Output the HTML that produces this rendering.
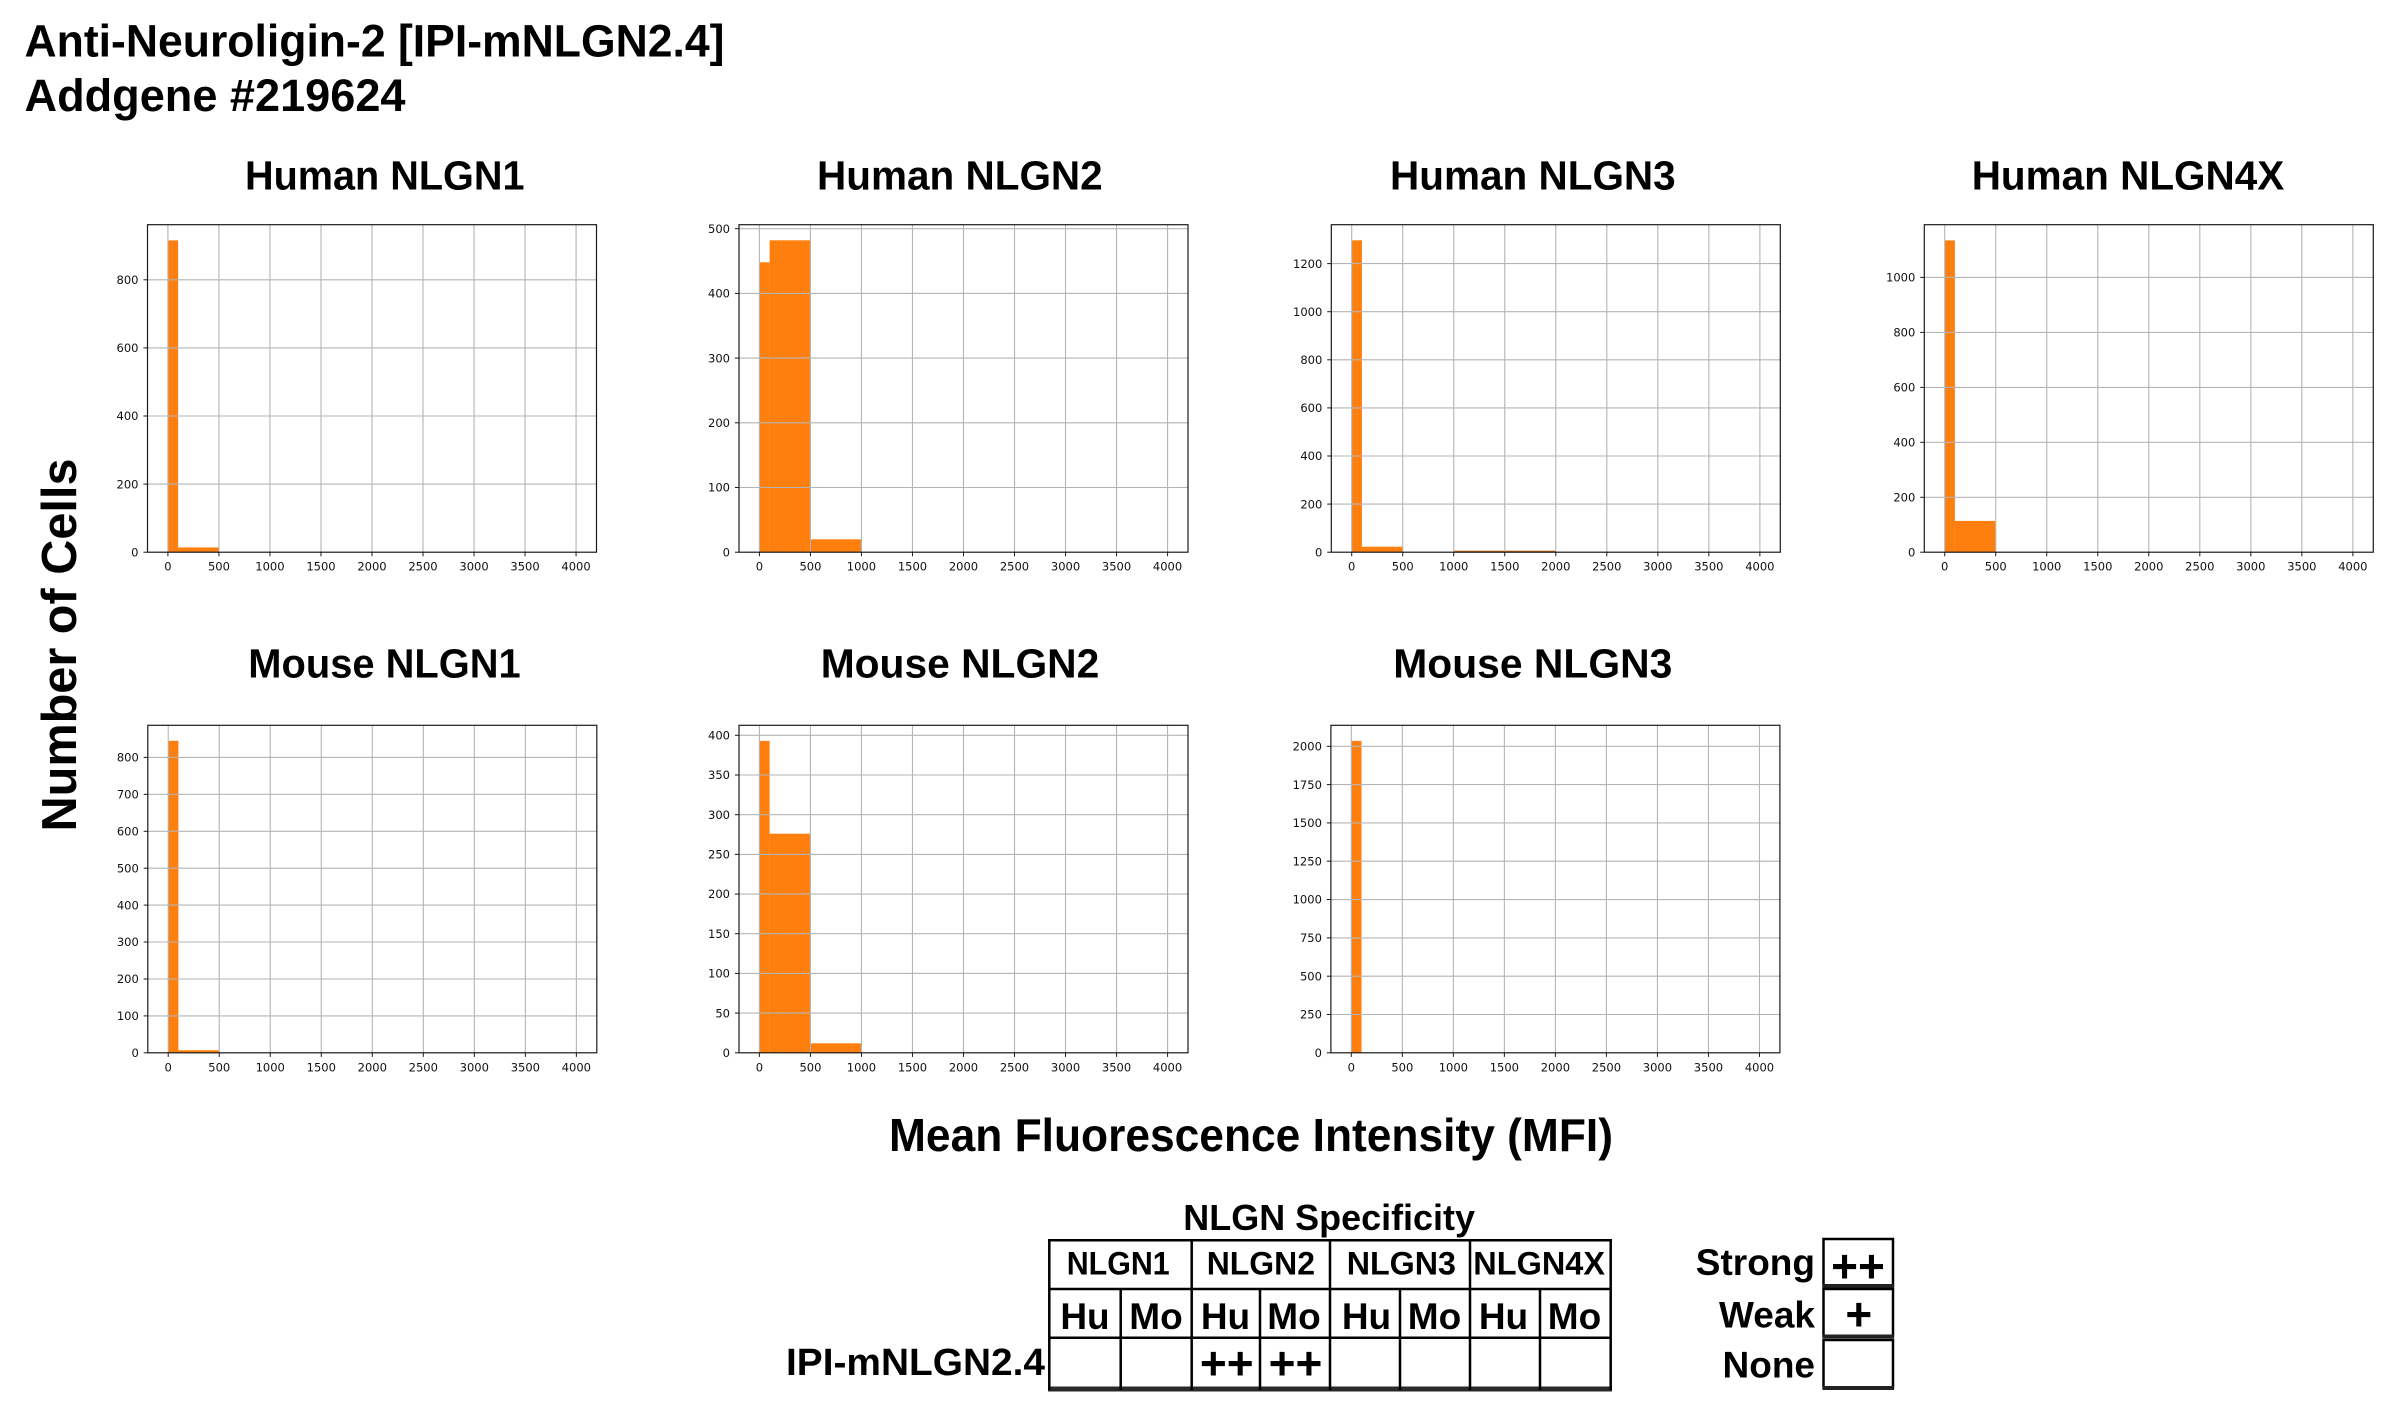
<!DOCTYPE html>
<html>
<head>
<meta charset="utf-8">
<style>
html,body{margin:0;padding:0;background:#fff;}
svg{display:block;}
.t{font-family:"Liberation Sans",Arial,sans-serif;font-weight:bold;fill:#000;}
.tk{font-family:"DejaVu Sans",sans-serif;font-size:11.5px;fill:#111;}
.tx{text-anchor:middle;}
.ty{text-anchor:end;}
.bar{fill:#ff7f0e;}
.grid line{stroke:#b4b4b4;stroke-width:1.1;}
.spine{fill:none;stroke:#1a1a1a;stroke-width:1.2;}
.tick line{stroke:#1a1a1a;stroke-width:1;}
.tb{stroke:#000;stroke-width:2.5;}
</style>
</head>
<body>
<svg width="2407" height="1418" viewBox="0 0 2407 1418" xmlns="http://www.w3.org/2000/svg">
<rect x="0" y="0" width="2407" height="1418" fill="#fff"/>

<!-- Main titles -->
<text class="t" x="24.5" y="56.6" font-size="45" textLength="700" lengthAdjust="spacingAndGlyphs">Anti-Neuroligin-2 [IPI-mNLGN2.4]</text>
<text class="t" x="24.5" y="111" font-size="45" textLength="381" lengthAdjust="spacingAndGlyphs">Addgene #219624</text>

<!-- Subplot titles -->
<text class="t" x="245" y="189.3" font-size="41" textLength="279.5" lengthAdjust="spacingAndGlyphs">Human NLGN1</text>
<text class="t" x="817" y="189.3" font-size="41" textLength="285.7" lengthAdjust="spacingAndGlyphs">Human NLGN2</text>
<text class="t" x="1390" y="189.3" font-size="41" textLength="285.7" lengthAdjust="spacingAndGlyphs">Human NLGN3</text>
<text class="t" x="1971.7" y="189.3" font-size="41" textLength="312.6" lengthAdjust="spacingAndGlyphs">Human NLGN4X</text>
<text class="t" x="248.3" y="677.7" font-size="41" textLength="272.4" lengthAdjust="spacingAndGlyphs">Mouse NLGN1</text>
<text class="t" x="820.7" y="677.7" font-size="41" textLength="278.6" lengthAdjust="spacingAndGlyphs">Mouse NLGN2</text>
<text class="t" x="1393.3" y="677.7" font-size="41" textLength="279" lengthAdjust="spacingAndGlyphs">Mouse NLGN3</text>

<!-- Axis labels -->
<text class="t" transform="translate(76,645) rotate(-90)" x="0" y="0" font-size="49" text-anchor="middle" textLength="373" lengthAdjust="spacingAndGlyphs">Number of Cells</text>
<text class="t" x="889" y="1151" font-size="46" textLength="724" lengthAdjust="spacingAndGlyphs">Mean Fluorescence Intensity (MFI)</text>

<!-- ============ Subplot 1: Human NLGN1 ============ -->
<g transform="translate(147.5,224.7)">
<rect class="bar" x="20.41" y="15.7" width="10.2" height="311.8"/>
<rect class="bar" x="30.61" y="322.7" width="40.82" height="4.8"/>
<g class="grid">
<line x1="20.41" y1="0" x2="20.41" y2="327.5"/><line x1="71.43" y1="0" x2="71.43" y2="327.5"/><line x1="122.45" y1="0" x2="122.45" y2="327.5"/><line x1="173.47" y1="0" x2="173.47" y2="327.5"/><line x1="224.49" y1="0" x2="224.49" y2="327.5"/><line x1="275.51" y1="0" x2="275.51" y2="327.5"/><line x1="326.53" y1="0" x2="326.53" y2="327.5"/><line x1="377.55" y1="0" x2="377.55" y2="327.5"/><line x1="428.57" y1="0" x2="428.57" y2="327.5"/>
<line x1="0" y1="259.4" x2="449" y2="259.4"/><line x1="0" y1="191.3" x2="449" y2="191.3"/><line x1="0" y1="123.2" x2="449" y2="123.2"/><line x1="0" y1="55.1" x2="449" y2="55.1"/>
</g>
<rect class="spine" x="0" y="0" width="449" height="327.5"/>
<g class="tick">
<line x1="20.41" y1="327.5" x2="20.41" y2="331.6"/><line x1="71.43" y1="327.5" x2="71.43" y2="331.6"/><line x1="122.45" y1="327.5" x2="122.45" y2="331.6"/><line x1="173.47" y1="327.5" x2="173.47" y2="331.6"/><line x1="224.49" y1="327.5" x2="224.49" y2="331.6"/><line x1="275.51" y1="327.5" x2="275.51" y2="331.6"/><line x1="326.53" y1="327.5" x2="326.53" y2="331.6"/><line x1="377.55" y1="327.5" x2="377.55" y2="331.6"/><line x1="428.57" y1="327.5" x2="428.57" y2="331.6"/>
<line x1="-4.1" y1="327.5" x2="0" y2="327.5"/><line x1="-4.1" y1="259.4" x2="0" y2="259.4"/><line x1="-4.1" y1="191.3" x2="0" y2="191.3"/><line x1="-4.1" y1="123.2" x2="0" y2="123.2"/><line x1="-4.1" y1="55.1" x2="0" y2="55.1"/>
</g>
<text class="tk tx" x="20.41" y="346">0</text><text class="tk tx" x="71.43" y="346">500</text><text class="tk tx" x="122.45" y="346">1000</text><text class="tk tx" x="173.47" y="346">1500</text><text class="tk tx" x="224.49" y="346">2000</text><text class="tk tx" x="275.51" y="346">2500</text><text class="tk tx" x="326.53" y="346">3000</text><text class="tk tx" x="377.55" y="346">3500</text><text class="tk tx" x="428.57" y="346">4000</text>
<text class="tk ty" x="-9" y="331.7">0</text><text class="tk ty" x="-9" y="263.6">200</text><text class="tk ty" x="-9" y="195.5">400</text><text class="tk ty" x="-9" y="127.4">600</text><text class="tk ty" x="-9" y="59.3">800</text>
</g>

<!-- ============ Subplot 2: Human NLGN2 ============ -->
<g transform="translate(739,224.7)">
<rect class="bar" x="20.41" y="37.6" width="10.2" height="289.9"/>
<rect class="bar" x="30.61" y="15.6" width="40.82" height="311.9"/>
<rect class="bar" x="71.43" y="314.6" width="51.02" height="12.9"/>
<g class="grid">
<line x1="20.41" y1="0" x2="20.41" y2="327.5"/><line x1="71.43" y1="0" x2="71.43" y2="327.5"/><line x1="122.45" y1="0" x2="122.45" y2="327.5"/><line x1="173.47" y1="0" x2="173.47" y2="327.5"/><line x1="224.49" y1="0" x2="224.49" y2="327.5"/><line x1="275.51" y1="0" x2="275.51" y2="327.5"/><line x1="326.53" y1="0" x2="326.53" y2="327.5"/><line x1="377.55" y1="0" x2="377.55" y2="327.5"/><line x1="428.57" y1="0" x2="428.57" y2="327.5"/>
<line x1="0" y1="262.8" x2="449" y2="262.8"/><line x1="0" y1="198.1" x2="449" y2="198.1"/><line x1="0" y1="133.4" x2="449" y2="133.4"/><line x1="0" y1="68.7" x2="449" y2="68.7"/><line x1="0" y1="4.0" x2="449" y2="4.0"/>
</g>
<rect class="spine" x="0" y="0" width="449" height="327.5"/>
<g class="tick">
<line x1="20.41" y1="327.5" x2="20.41" y2="331.6"/><line x1="71.43" y1="327.5" x2="71.43" y2="331.6"/><line x1="122.45" y1="327.5" x2="122.45" y2="331.6"/><line x1="173.47" y1="327.5" x2="173.47" y2="331.6"/><line x1="224.49" y1="327.5" x2="224.49" y2="331.6"/><line x1="275.51" y1="327.5" x2="275.51" y2="331.6"/><line x1="326.53" y1="327.5" x2="326.53" y2="331.6"/><line x1="377.55" y1="327.5" x2="377.55" y2="331.6"/><line x1="428.57" y1="327.5" x2="428.57" y2="331.6"/>
<line x1="-4.1" y1="327.5" x2="0" y2="327.5"/><line x1="-4.1" y1="262.8" x2="0" y2="262.8"/><line x1="-4.1" y1="198.1" x2="0" y2="198.1"/><line x1="-4.1" y1="133.4" x2="0" y2="133.4"/><line x1="-4.1" y1="68.7" x2="0" y2="68.7"/><line x1="-4.1" y1="4.0" x2="0" y2="4.0"/>
</g>
<text class="tk tx" x="20.41" y="346">0</text><text class="tk tx" x="71.43" y="346">500</text><text class="tk tx" x="122.45" y="346">1000</text><text class="tk tx" x="173.47" y="346">1500</text><text class="tk tx" x="224.49" y="346">2000</text><text class="tk tx" x="275.51" y="346">2500</text><text class="tk tx" x="326.53" y="346">3000</text><text class="tk tx" x="377.55" y="346">3500</text><text class="tk tx" x="428.57" y="346">4000</text>
<text class="tk ty" x="-9" y="331.7">0</text><text class="tk ty" x="-9" y="267">100</text><text class="tk ty" x="-9" y="202.3">200</text><text class="tk ty" x="-9" y="137.6">300</text><text class="tk ty" x="-9" y="72.9">400</text><text class="tk ty" x="-9" y="8.2">500</text>
</g>

<!-- ============ Subplot 3: Human NLGN3 ============ -->
<g transform="translate(1331.3,224.7)">
<rect class="bar" x="20.41" y="15.6" width="10.2" height="311.9"/>
<rect class="bar" x="30.61" y="322" width="40.82" height="5.5"/>
<rect class="bar" x="122.45" y="326" width="102.04" height="1.5" style="fill:#c8640b"/>
<g class="grid">
<line x1="20.41" y1="0" x2="20.41" y2="327.5"/><line x1="71.43" y1="0" x2="71.43" y2="327.5"/><line x1="122.45" y1="0" x2="122.45" y2="327.5"/><line x1="173.47" y1="0" x2="173.47" y2="327.5"/><line x1="224.49" y1="0" x2="224.49" y2="327.5"/><line x1="275.51" y1="0" x2="275.51" y2="327.5"/><line x1="326.53" y1="0" x2="326.53" y2="327.5"/><line x1="377.55" y1="0" x2="377.55" y2="327.5"/><line x1="428.57" y1="0" x2="428.57" y2="327.5"/>
<line x1="0" y1="279.4" x2="449" y2="279.4"/><line x1="0" y1="231.3" x2="449" y2="231.3"/><line x1="0" y1="183.2" x2="449" y2="183.2"/><line x1="0" y1="135.1" x2="449" y2="135.1"/><line x1="0" y1="87.0" x2="449" y2="87.0"/><line x1="0" y1="38.9" x2="449" y2="38.9"/>
</g>
<rect class="spine" x="0" y="0" width="449" height="327.5"/>
<g class="tick">
<line x1="20.41" y1="327.5" x2="20.41" y2="331.6"/><line x1="71.43" y1="327.5" x2="71.43" y2="331.6"/><line x1="122.45" y1="327.5" x2="122.45" y2="331.6"/><line x1="173.47" y1="327.5" x2="173.47" y2="331.6"/><line x1="224.49" y1="327.5" x2="224.49" y2="331.6"/><line x1="275.51" y1="327.5" x2="275.51" y2="331.6"/><line x1="326.53" y1="327.5" x2="326.53" y2="331.6"/><line x1="377.55" y1="327.5" x2="377.55" y2="331.6"/><line x1="428.57" y1="327.5" x2="428.57" y2="331.6"/>
<line x1="-4.1" y1="327.5" x2="0" y2="327.5"/><line x1="-4.1" y1="279.4" x2="0" y2="279.4"/><line x1="-4.1" y1="231.3" x2="0" y2="231.3"/><line x1="-4.1" y1="183.2" x2="0" y2="183.2"/><line x1="-4.1" y1="135.1" x2="0" y2="135.1"/><line x1="-4.1" y1="87.0" x2="0" y2="87.0"/><line x1="-4.1" y1="38.9" x2="0" y2="38.9"/>
</g>
<text class="tk tx" x="20.41" y="346">0</text><text class="tk tx" x="71.43" y="346">500</text><text class="tk tx" x="122.45" y="346">1000</text><text class="tk tx" x="173.47" y="346">1500</text><text class="tk tx" x="224.49" y="346">2000</text><text class="tk tx" x="275.51" y="346">2500</text><text class="tk tx" x="326.53" y="346">3000</text><text class="tk tx" x="377.55" y="346">3500</text><text class="tk tx" x="428.57" y="346">4000</text>
<text class="tk ty" x="-9" y="331.7">0</text><text class="tk ty" x="-9" y="283.6">200</text><text class="tk ty" x="-9" y="235.5">400</text><text class="tk ty" x="-9" y="187.4">600</text><text class="tk ty" x="-9" y="139.3">800</text><text class="tk ty" x="-9" y="91.2">1000</text><text class="tk ty" x="-9" y="43.1">1200</text>
</g>

<!-- ============ Subplot 4: Human NLGN4X ============ -->
<g transform="translate(1924.3,224.7)">
<rect class="bar" x="20.41" y="15.7" width="10.2" height="311.8"/>
<rect class="bar" x="30.61" y="296.2" width="40.82" height="31.3"/>
<g class="grid">
<line x1="20.41" y1="0" x2="20.41" y2="327.5"/><line x1="71.43" y1="0" x2="71.43" y2="327.5"/><line x1="122.45" y1="0" x2="122.45" y2="327.5"/><line x1="173.47" y1="0" x2="173.47" y2="327.5"/><line x1="224.49" y1="0" x2="224.49" y2="327.5"/><line x1="275.51" y1="0" x2="275.51" y2="327.5"/><line x1="326.53" y1="0" x2="326.53" y2="327.5"/><line x1="377.55" y1="0" x2="377.55" y2="327.5"/><line x1="428.57" y1="0" x2="428.57" y2="327.5"/>
<line x1="0" y1="272.6" x2="449" y2="272.6"/><line x1="0" y1="217.6" x2="449" y2="217.6"/><line x1="0" y1="162.7" x2="449" y2="162.7"/><line x1="0" y1="107.7" x2="449" y2="107.7"/><line x1="0" y1="52.7" x2="449" y2="52.7"/>
</g>
<rect class="spine" x="0" y="0" width="449" height="327.5"/>
<g class="tick">
<line x1="20.41" y1="327.5" x2="20.41" y2="331.6"/><line x1="71.43" y1="327.5" x2="71.43" y2="331.6"/><line x1="122.45" y1="327.5" x2="122.45" y2="331.6"/><line x1="173.47" y1="327.5" x2="173.47" y2="331.6"/><line x1="224.49" y1="327.5" x2="224.49" y2="331.6"/><line x1="275.51" y1="327.5" x2="275.51" y2="331.6"/><line x1="326.53" y1="327.5" x2="326.53" y2="331.6"/><line x1="377.55" y1="327.5" x2="377.55" y2="331.6"/><line x1="428.57" y1="327.5" x2="428.57" y2="331.6"/>
<line x1="-4.1" y1="327.5" x2="0" y2="327.5"/><line x1="-4.1" y1="272.6" x2="0" y2="272.6"/><line x1="-4.1" y1="217.6" x2="0" y2="217.6"/><line x1="-4.1" y1="162.7" x2="0" y2="162.7"/><line x1="-4.1" y1="107.7" x2="0" y2="107.7"/><line x1="-4.1" y1="52.7" x2="0" y2="52.7"/>
</g>
<text class="tk tx" x="20.41" y="346">0</text><text class="tk tx" x="71.43" y="346">500</text><text class="tk tx" x="122.45" y="346">1000</text><text class="tk tx" x="173.47" y="346">1500</text><text class="tk tx" x="224.49" y="346">2000</text><text class="tk tx" x="275.51" y="346">2500</text><text class="tk tx" x="326.53" y="346">3000</text><text class="tk tx" x="377.55" y="346">3500</text><text class="tk tx" x="428.57" y="346">4000</text>
<text class="tk ty" x="-9" y="331.7">0</text><text class="tk ty" x="-9" y="276.8">200</text><text class="tk ty" x="-9" y="221.8">400</text><text class="tk ty" x="-9" y="166.9">600</text><text class="tk ty" x="-9" y="111.9">800</text><text class="tk ty" x="-9" y="56.9">1000</text>
</g>

<!-- ============ Subplot 5: Mouse NLGN1 ============ -->
<g transform="translate(147.8,725.3)">
<rect class="bar" x="20.41" y="15.5" width="10.2" height="312"/>
<rect class="bar" x="30.61" y="324.9" width="40.82" height="2.6"/>
<g class="grid">
<line x1="20.41" y1="0" x2="20.41" y2="327.5"/><line x1="71.43" y1="0" x2="71.43" y2="327.5"/><line x1="122.45" y1="0" x2="122.45" y2="327.5"/><line x1="173.47" y1="0" x2="173.47" y2="327.5"/><line x1="224.49" y1="0" x2="224.49" y2="327.5"/><line x1="275.51" y1="0" x2="275.51" y2="327.5"/><line x1="326.53" y1="0" x2="326.53" y2="327.5"/><line x1="377.55" y1="0" x2="377.55" y2="327.5"/><line x1="428.57" y1="0" x2="428.57" y2="327.5"/>
<line x1="0" y1="290.6" x2="449" y2="290.6"/><line x1="0" y1="253.7" x2="449" y2="253.7"/><line x1="0" y1="216.7" x2="449" y2="216.7"/><line x1="0" y1="179.8" x2="449" y2="179.8"/><line x1="0" y1="142.9" x2="449" y2="142.9"/><line x1="0" y1="106.0" x2="449" y2="106.0"/><line x1="0" y1="69.05" x2="449" y2="69.05"/><line x1="0" y1="32.1" x2="449" y2="32.1"/>
</g>
<rect class="spine" x="0" y="0" width="449" height="327.5"/>
<g class="tick">
<line x1="20.41" y1="327.5" x2="20.41" y2="331.6"/><line x1="71.43" y1="327.5" x2="71.43" y2="331.6"/><line x1="122.45" y1="327.5" x2="122.45" y2="331.6"/><line x1="173.47" y1="327.5" x2="173.47" y2="331.6"/><line x1="224.49" y1="327.5" x2="224.49" y2="331.6"/><line x1="275.51" y1="327.5" x2="275.51" y2="331.6"/><line x1="326.53" y1="327.5" x2="326.53" y2="331.6"/><line x1="377.55" y1="327.5" x2="377.55" y2="331.6"/><line x1="428.57" y1="327.5" x2="428.57" y2="331.6"/>
<line x1="-4.1" y1="327.5" x2="0" y2="327.5"/><line x1="-4.1" y1="290.6" x2="0" y2="290.6"/><line x1="-4.1" y1="253.7" x2="0" y2="253.7"/><line x1="-4.1" y1="216.7" x2="0" y2="216.7"/><line x1="-4.1" y1="179.8" x2="0" y2="179.8"/><line x1="-4.1" y1="142.9" x2="0" y2="142.9"/><line x1="-4.1" y1="106.0" x2="0" y2="106.0"/><line x1="-4.1" y1="69.05" x2="0" y2="69.05"/><line x1="-4.1" y1="32.1" x2="0" y2="32.1"/>
</g>
<text class="tk tx" x="20.41" y="346">0</text><text class="tk tx" x="71.43" y="346">500</text><text class="tk tx" x="122.45" y="346">1000</text><text class="tk tx" x="173.47" y="346">1500</text><text class="tk tx" x="224.49" y="346">2000</text><text class="tk tx" x="275.51" y="346">2500</text><text class="tk tx" x="326.53" y="346">3000</text><text class="tk tx" x="377.55" y="346">3500</text><text class="tk tx" x="428.57" y="346">4000</text>
<text class="tk ty" x="-9" y="331.7">0</text><text class="tk ty" x="-9" y="294.8">100</text><text class="tk ty" x="-9" y="257.9">200</text><text class="tk ty" x="-9" y="220.9">300</text><text class="tk ty" x="-9" y="184">400</text><text class="tk ty" x="-9" y="147.1">500</text><text class="tk ty" x="-9" y="110.2">600</text><text class="tk ty" x="-9" y="73.25">700</text><text class="tk ty" x="-9" y="36.3">800</text>
</g>

<!-- ============ Subplot 6: Mouse NLGN2 ============ -->
<g transform="translate(739,725.3)">
<rect class="bar" x="20.41" y="15.6" width="10.2" height="311.9"/>
<rect class="bar" x="30.61" y="108.4" width="40.82" height="219.1"/>
<rect class="bar" x="71.43" y="318" width="51.02" height="9.5"/>
<g class="grid">
<line x1="20.41" y1="0" x2="20.41" y2="327.5"/><line x1="71.43" y1="0" x2="71.43" y2="327.5"/><line x1="122.45" y1="0" x2="122.45" y2="327.5"/><line x1="173.47" y1="0" x2="173.47" y2="327.5"/><line x1="224.49" y1="0" x2="224.49" y2="327.5"/><line x1="275.51" y1="0" x2="275.51" y2="327.5"/><line x1="326.53" y1="0" x2="326.53" y2="327.5"/><line x1="377.55" y1="0" x2="377.55" y2="327.5"/><line x1="428.57" y1="0" x2="428.57" y2="327.5"/>
<line x1="0" y1="287.8" x2="449" y2="287.8"/><line x1="0" y1="248.1" x2="449" y2="248.1"/><line x1="0" y1="208.4" x2="449" y2="208.4"/><line x1="0" y1="168.75" x2="449" y2="168.75"/><line x1="0" y1="129.1" x2="449" y2="129.1"/><line x1="0" y1="89.4" x2="449" y2="89.4"/><line x1="0" y1="49.7" x2="449" y2="49.7"/><line x1="0" y1="10.0" x2="449" y2="10.0"/>
</g>
<rect class="spine" x="0" y="0" width="449" height="327.5"/>
<g class="tick">
<line x1="20.41" y1="327.5" x2="20.41" y2="331.6"/><line x1="71.43" y1="327.5" x2="71.43" y2="331.6"/><line x1="122.45" y1="327.5" x2="122.45" y2="331.6"/><line x1="173.47" y1="327.5" x2="173.47" y2="331.6"/><line x1="224.49" y1="327.5" x2="224.49" y2="331.6"/><line x1="275.51" y1="327.5" x2="275.51" y2="331.6"/><line x1="326.53" y1="327.5" x2="326.53" y2="331.6"/><line x1="377.55" y1="327.5" x2="377.55" y2="331.6"/><line x1="428.57" y1="327.5" x2="428.57" y2="331.6"/>
<line x1="-4.1" y1="327.5" x2="0" y2="327.5"/><line x1="-4.1" y1="287.8" x2="0" y2="287.8"/><line x1="-4.1" y1="248.1" x2="0" y2="248.1"/><line x1="-4.1" y1="208.4" x2="0" y2="208.4"/><line x1="-4.1" y1="168.75" x2="0" y2="168.75"/><line x1="-4.1" y1="129.1" x2="0" y2="129.1"/><line x1="-4.1" y1="89.4" x2="0" y2="89.4"/><line x1="-4.1" y1="49.7" x2="0" y2="49.7"/><line x1="-4.1" y1="10.0" x2="0" y2="10.0"/>
</g>
<text class="tk tx" x="20.41" y="346">0</text><text class="tk tx" x="71.43" y="346">500</text><text class="tk tx" x="122.45" y="346">1000</text><text class="tk tx" x="173.47" y="346">1500</text><text class="tk tx" x="224.49" y="346">2000</text><text class="tk tx" x="275.51" y="346">2500</text><text class="tk tx" x="326.53" y="346">3000</text><text class="tk tx" x="377.55" y="346">3500</text><text class="tk tx" x="428.57" y="346">4000</text>
<text class="tk ty" x="-9" y="331.7">0</text><text class="tk ty" x="-9" y="292">50</text><text class="tk ty" x="-9" y="252.3">100</text><text class="tk ty" x="-9" y="212.6">150</text><text class="tk ty" x="-9" y="172.95">200</text><text class="tk ty" x="-9" y="133.3">250</text><text class="tk ty" x="-9" y="93.6">300</text><text class="tk ty" x="-9" y="53.9">350</text><text class="tk ty" x="-9" y="14.2">400</text>
</g>

<!-- ============ Subplot 7: Mouse NLGN3 ============ -->
<g transform="translate(1330.9,725.3)">
<rect class="bar" x="20.41" y="15.6" width="10.2" height="311.9"/>
<g class="grid">
<line x1="20.41" y1="0" x2="20.41" y2="327.5"/><line x1="71.43" y1="0" x2="71.43" y2="327.5"/><line x1="122.45" y1="0" x2="122.45" y2="327.5"/><line x1="173.47" y1="0" x2="173.47" y2="327.5"/><line x1="224.49" y1="0" x2="224.49" y2="327.5"/><line x1="275.51" y1="0" x2="275.51" y2="327.5"/><line x1="326.53" y1="0" x2="326.53" y2="327.5"/><line x1="377.55" y1="0" x2="377.55" y2="327.5"/><line x1="428.57" y1="0" x2="428.57" y2="327.5"/>
<line x1="0" y1="289.2" x2="449" y2="289.2"/><line x1="0" y1="250.9" x2="449" y2="250.9"/><line x1="0" y1="212.6" x2="449" y2="212.6"/><line x1="0" y1="174.25" x2="449" y2="174.25"/><line x1="0" y1="135.9" x2="449" y2="135.9"/><line x1="0" y1="97.6" x2="449" y2="97.6"/><line x1="0" y1="59.3" x2="449" y2="59.3"/><line x1="0" y1="21.0" x2="449" y2="21.0"/>
</g>
<rect class="spine" x="0" y="0" width="449" height="327.5"/>
<g class="tick">
<line x1="20.41" y1="327.5" x2="20.41" y2="331.6"/><line x1="71.43" y1="327.5" x2="71.43" y2="331.6"/><line x1="122.45" y1="327.5" x2="122.45" y2="331.6"/><line x1="173.47" y1="327.5" x2="173.47" y2="331.6"/><line x1="224.49" y1="327.5" x2="224.49" y2="331.6"/><line x1="275.51" y1="327.5" x2="275.51" y2="331.6"/><line x1="326.53" y1="327.5" x2="326.53" y2="331.6"/><line x1="377.55" y1="327.5" x2="377.55" y2="331.6"/><line x1="428.57" y1="327.5" x2="428.57" y2="331.6"/>
<line x1="-4.1" y1="327.5" x2="0" y2="327.5"/><line x1="-4.1" y1="289.2" x2="0" y2="289.2"/><line x1="-4.1" y1="250.9" x2="0" y2="250.9"/><line x1="-4.1" y1="212.6" x2="0" y2="212.6"/><line x1="-4.1" y1="174.25" x2="0" y2="174.25"/><line x1="-4.1" y1="135.9" x2="0" y2="135.9"/><line x1="-4.1" y1="97.6" x2="0" y2="97.6"/><line x1="-4.1" y1="59.3" x2="0" y2="59.3"/><line x1="-4.1" y1="21.0" x2="0" y2="21.0"/>
</g>
<text class="tk tx" x="20.41" y="346">0</text><text class="tk tx" x="71.43" y="346">500</text><text class="tk tx" x="122.45" y="346">1000</text><text class="tk tx" x="173.47" y="346">1500</text><text class="tk tx" x="224.49" y="346">2000</text><text class="tk tx" x="275.51" y="346">2500</text><text class="tk tx" x="326.53" y="346">3000</text><text class="tk tx" x="377.55" y="346">3500</text><text class="tk tx" x="428.57" y="346">4000</text>
<text class="tk ty" x="-9" y="331.7">0</text><text class="tk ty" x="-9" y="293.4">250</text><text class="tk ty" x="-9" y="255.1">500</text><text class="tk ty" x="-9" y="216.8">750</text><text class="tk ty" x="-9" y="178.45">1000</text><text class="tk ty" x="-9" y="140.1">1250</text><text class="tk ty" x="-9" y="101.8">1500</text><text class="tk ty" x="-9" y="63.5">1750</text><text class="tk ty" x="-9" y="25.2">2000</text>
</g>

<!-- ============ Specificity table ============ -->
<text class="t" x="1183.3" y="1230" font-size="36" textLength="291.7" lengthAdjust="spacingAndGlyphs">NLGN Specificity</text>
<text class="t" x="786" y="1375" font-size="38" textLength="259" lengthAdjust="spacingAndGlyphs">IPI-mNLGN2.4</text>

<rect x="1049.3" y="1240" width="561.4" height="149" fill="#fff"/>
<line class="tb" x1="1048" y1="1240.3" x2="1612" y2="1240.3"/>
<line class="tb" x1="1049" y1="1289" x2="1611" y2="1289"/>
<line class="tb" x1="1049" y1="1337.8" x2="1611" y2="1337.8"/>
<line x1="1048" y1="1389" x2="1612" y2="1389" stroke="#2a2a2a" stroke-width="5"/>
<line class="tb" x1="1049.3" y1="1239" x2="1049.3" y2="1390"/>
<line class="tb" x1="1191.7" y1="1239" x2="1191.7" y2="1390"/>
<line class="tb" x1="1330" y1="1239" x2="1330" y2="1390"/>
<line class="tb" x1="1470" y1="1239" x2="1470" y2="1390"/>
<line class="tb" x1="1610.7" y1="1239" x2="1610.7" y2="1390"/>
<line class="tb" x1="1120.7" y1="1289" x2="1120.7" y2="1390"/>
<line class="tb" x1="1260" y1="1289" x2="1260" y2="1390"/>
<line class="tb" x1="1400" y1="1289" x2="1400" y2="1390"/>
<line class="tb" x1="1540" y1="1289" x2="1540" y2="1390"/>

<text class="t" x="1066.7" y="1274.3" font-size="32.5" textLength="103" lengthAdjust="spacingAndGlyphs">NLGN1</text>
<text class="t" x="1206.7" y="1274.3" font-size="32.5" textLength="108.3" lengthAdjust="spacingAndGlyphs">NLGN2</text>
<text class="t" x="1346.7" y="1274.3" font-size="32.5" textLength="109.3" lengthAdjust="spacingAndGlyphs">NLGN3</text>
<text class="t" x="1473.3" y="1274.3" font-size="32.5" textLength="131.7" lengthAdjust="spacingAndGlyphs">NLGN4X</text>
<g class="t" font-size="37" text-anchor="middle">
<text x="1085" y="1329">Hu</text>
<text x="1156" y="1329">Mo</text>
<text x="1225.5" y="1329">Hu</text>
<text x="1294" y="1329">Mo</text>
<text x="1366.5" y="1329">Hu</text>
<text x="1434.5" y="1329">Mo</text>
<text x="1503.5" y="1329">Hu</text>
<text x="1574.5" y="1329">Mo</text>
</g>
<g class="t" font-size="46" text-anchor="middle">
<text x="1226.7" y="1379">++</text>
<text x="1295.5" y="1379">++</text>
</g>

<!-- ============ Legend ============ -->
<g class="t" font-size="37" text-anchor="end">
<text x="1815" y="1275">Strong</text>
<text x="1815" y="1327.7">Weak</text>
<text x="1815" y="1377.3">None</text>
</g>
<rect x="1823.5" y="1239" width="69.5" height="47" fill="#fff" stroke="#000" stroke-width="2.5"/>
<line x1="1822.5" y1="1286" x2="1894" y2="1286" stroke="#222" stroke-width="4"/>
<rect x="1823.5" y="1289" width="69.5" height="47" fill="#fff" stroke="#000" stroke-width="2.5"/>
<line x1="1822.5" y1="1336.5" x2="1894" y2="1336.5" stroke="#222" stroke-width="4"/>
<rect x="1823.5" y="1340" width="69.5" height="47.5" fill="#fff" stroke="#000" stroke-width="2.5"/>
<line x1="1822.5" y1="1388" x2="1894" y2="1388" stroke="#222" stroke-width="4"/>
<text class="t" x="1858" y="1282" font-size="46" text-anchor="middle">++</text>
<text class="t" x="1858.8" y="1330" font-size="46" text-anchor="middle">+</text>
</svg>
</body>
</html>
